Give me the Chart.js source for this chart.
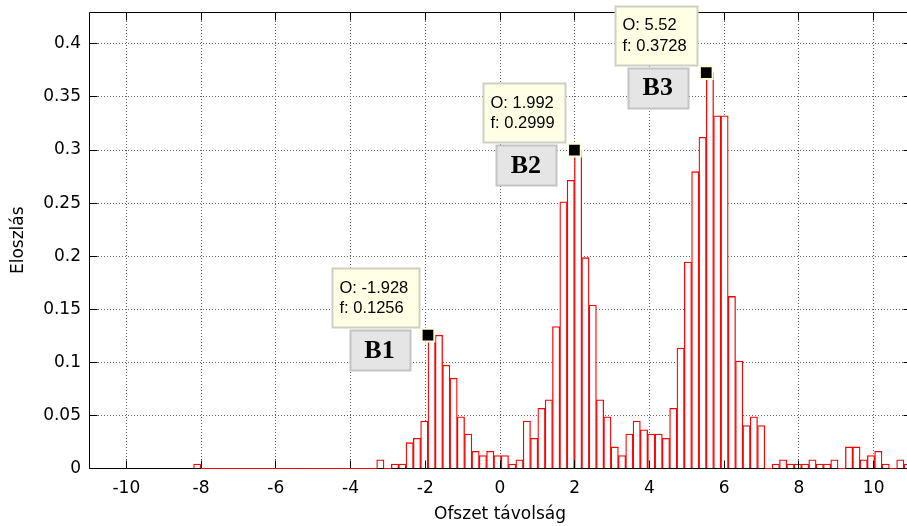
<!DOCTYPE html>
<html>
<head>
<meta charset="utf-8">
<script src="https://cdn.jsdelivr.net/npm/chart.js@4.4.1/dist/chart.umd.min.js"></script>
<style>
  html, body { margin: 0; padding: 0; background: #fff; overflow: hidden; }
  #wrap { width: 907px; height: 526px; overflow: hidden; }
  canvas { display: block; }
</style>
</head>
<body>
<div id="wrap"><canvas id="chart" width="912" height="526"></canvas></div>
<script>
// histogram bins: centres and normalised frequency (Eloszlás)
const binWidth = 0.196;
const binCenters = [
  -8.102, -7.906, -7.71, -7.514, -7.318, -7.122, -6.926, -6.73, -6.534, -6.338,
  -6.142, -5.946, -5.75, -5.554, -5.358, -5.162, -4.966, -4.77, -4.574, -4.378,
  -4.182, -3.986, -3.79, -3.594, -3.398, -3.202, -3.006, -2.81, -2.614, -2.418,
  -2.222, -2.026, -1.83, -1.634, -1.438, -1.242, -1.046, -0.85, -0.654, -0.458,
  -0.262, -0.066, 0.13, 0.326, 0.522, 0.718, 0.914, 1.11, 1.306, 1.502,
  1.698, 1.894, 2.09, 2.286, 2.482, 2.678, 2.874, 3.07, 3.266, 3.462,
  3.658, 3.854, 4.05, 4.246, 4.442, 4.638, 4.834, 5.03, 5.226, 5.422,
  5.618, 5.814, 6.01, 6.206, 6.402, 6.598, 6.794, 6.99, 7.186, 7.382,
  7.578, 7.774, 7.97, 8.166, 8.362, 8.558, 8.754, 8.95, 9.146, 9.342,
  9.538, 9.734, 9.93, 10.126, 10.322, 10.518, 10.714, 10.91
];
const binValues = [
  0.0041, 0, 0, 0, 0, 0, 0, 0, 0, 0,
  0, 0, 0, 0, 0, 0, 0, 0, 0, 0,
  0, 0, 0, 0, 0, 0.0081, 0, 0.0041, 0.0041, 0.0243,
  0.0284, 0.0446, 0.1256, 0.1256, 0.0973, 0.0851, 0.0486, 0.0324, 0.0162, 0.0122,
  0.0162, 0.0122, 0.0122, 0.0041, 0.0081, 0.0446, 0.0284, 0.0567, 0.0648, 0.1337,
  0.2512, 0.2715, 0.2999, 0.1986, 0.1540, 0.0648, 0.0486, 0.0203, 0.0122, 0.0324,
  0.0446, 0.0365, 0.0324, 0.0324, 0.0284, 0.0567, 0.1135, 0.1945, 0.2796, 0.3120,
  0.3728, 0.3323, 0.3323, 0.1621, 0.1013, 0.0405, 0.0486, 0.0405, 0, 0.0041,
  0.0081, 0.0041, 0.0041, 0.0041, 0.0081, 0.0041, 0.0041, 0.0081, 0, 0.0203,
  0.0203, 0.0081, 0.0122, 0.0162, 0.0041, 0, 0.0081, 0.0041
];

// data tips on the three peaks
const tipX = [-1.928, 1.992, 5.52];
const tipY = [0.1256, 0.2999, 0.3728];
const peakNames = ['B1', 'B2', 'B3'];

const xTicks = [-10, -8, -6, -4, -2, 0, 2, 4, 6, 8, 10];
const yTicks = [0, 0.05, 0.1, 0.15, 0.2, 0.25, 0.3, 0.35, 0.4];

const AXIS_FONT = '"DejaVu Sans", Verdana, sans-serif';
const TIP_FONT = 'Arial, "Liberation Sans", sans-serif';
const SERIF = '"Times New Roman", "Liberation Serif", serif';

Chart.defaults.font.family = AXIS_FONT;
Chart.defaults.color = '#000';

// empty bins show as a red line on the baseline
const emptyBins = [];
binCenters.forEach((c, i) => {
  if (binValues[i] === 0) {
    emptyBins.push({ x: c - binWidth / 2, y: 0 }, { x: c + binWidth / 2, y: 0 });
  } else {
    emptyBins.push({ x: c, y: null });
  }
});

const align = v => Math.round(v - 0.5) + 0.5;

// keep the plot box where it is, no extra padding for the tick labels
const noPad = s => { s.paddingTop = 0; s.paddingBottom = 0; s.paddingLeft = 0; s.paddingRight = 0; };

// black box round the plot with inward ticks (matlab style)
const axesBox = {
  id: 'axesBox',
  afterDatasetDraw(chart, args) {
    if (args.index !== 0) return;
    const { ctx, chartArea: a, scales: { x, y } } = chart;
    const L = align(a.left), R = align(a.right), T = align(a.top), B = align(a.bottom);
    ctx.save();
    ctx.strokeStyle = '#000';
    ctx.lineWidth = 1;
    ctx.beginPath();
    ctx.moveTo(L, T); ctx.lineTo(R, T); ctx.lineTo(R, B); ctx.lineTo(L, B); ctx.closePath();
    xTicks.forEach(v => {
      const px = align(x.getPixelForValue(v));
      ctx.moveTo(px, B); ctx.lineTo(px, B - 8);
      ctx.moveTo(px, T); ctx.lineTo(px, T + 8);
    });
    yTicks.forEach(v => {
      const py = align(y.getPixelForValue(v));
      ctx.moveTo(L, py); ctx.lineTo(L + 8, py);
      ctx.moveTo(R, py); ctx.lineTo(R - 8, py);
    });
    ctx.stroke();
    ctx.restore();
  },
  afterDatasetsDraw(chart) {
    const { ctx, scales: { x, y } } = chart;
    ctx.save();
    tipX.forEach((tx, i) => {
      const mx = x.getPixelForValue(tx);
      const my = y.getPixelForValue(tipY[i]);
      const line1 = 'O: ' + tx;
      const line2 = 'f: ' + tipY[i];
      ctx.font = '16.5px ' + TIP_FONT;
      const tw = Math.max(ctx.measureText(line1).width, ctx.measureText(line2).width);
      const bw = Math.round(tw + 18);
      const right = Math.round(mx - 9) + 0.5;
      const top = Math.round(my - 67) + 0.5;
      ctx.fillStyle = '#ffffe6';
      ctx.strokeStyle = '#cfcfc4';
      ctx.fillRect(right - bw, top, bw, 59);
      ctx.strokeRect(right - bw, top, bw, 59);
      ctx.fillStyle = '#000';
      ctx.textAlign = 'left';
      ctx.textBaseline = 'middle';
      ctx.fillText(line1, right - bw + 7, my - 47);
      ctx.fillText(line2, right - bw + 7, my - 26.5);

      const gx = Math.round(mx - 78) + 0.5;
      const gy = Math.round(my - 5) + 0.5;
      ctx.fillStyle = '#e5e5e5';
      ctx.strokeStyle = '#c4c4c4';
      ctx.fillRect(gx, gy, 60, 40);
      ctx.strokeRect(gx, gy, 60, 40);
      ctx.fillStyle = '#000';
      ctx.font = 'bold 26px ' + SERIF;
      ctx.textAlign = 'center';
      ctx.fillText(peakNames[i], mx - 48.5, my + 16);
    });
    ctx.restore();
  }
};

new Chart(document.getElementById('chart').getContext('2d'), {
  type: 'bar',
  data: {
    datasets: [
      {
        type: 'bar',
        data: binCenters.map((c, i) => ({ x: c, y: binValues[i] })),
        backgroundColor: '#ffffff',
        borderColor: '#ff0000',
        borderWidth: 1.3,
        borderSkipped: 'start',
        barPercentage: 1,
        categoryPercentage: 1,
        order: 2
      },
      {
        type: 'line',
        data: emptyBins,
        borderColor: '#ff0000',
        borderWidth: 1,
        pointRadius: 0,
        spanGaps: false,
        clip: false,
        order: 1
      },
      {
        type: 'scatter',
        data: tipX.map((v, i) => ({ x: v, y: tipY[i] })),
        pointStyle: 'rect',
        pointRadius: 9,
        pointHoverRadius: 9,
        backgroundColor: '#000000',
        borderColor: '#ffffd8',
        borderWidth: 2,
        clip: false,
        order: 0
      }
    ]
  },
  options: {
    responsive: false,
    animation: false,
    events: [],
    layout: { autoPadding: false, padding: { top: 12, right: 1, left: 0, bottom: 0 } },
    plugins: { legend: { display: false }, tooltip: { enabled: false } },
    scales: {
      x: {
        type: 'linear',
        min: -11,
        max: 11,
        offset: false,
        afterBuildTicks: s => { s.ticks = xTicks.map(v => ({ value: v })); },
        afterFit: s => { s.height = 57.5; noPad(s); },
        grid: { color: '#666', drawTicks: false, offset: false },
        border: { display: false, dash: [1, 2] },
        ticks: { padding: 9.5, autoSkip: false, maxRotation: 0, font: { size: 17 }, color: '#000', callback: v => String(v) },
        title: { display: true, text: 'Ofszet távolság', font: { size: 17 }, color: '#000', padding: { top: 0, bottom: 1.5 } }
      },
      y: {
        type: 'linear',
        min: 0,
        max: 0.43,
        afterBuildTicks: s => { s.ticks = yTicks.map(v => ({ value: v })); },
        afterFit: s => { s.width = 89; noPad(s); },
        grid: { color: '#666', drawTicks: false },
        border: { display: false, dash: [1, 2] },
        ticks: { padding: 8, font: { size: 17 }, color: '#000', callback: v => String(v) },
        title: { display: true, text: 'Eloszlás', font: { size: 17 }, color: '#000', padding: { top: 8, bottom: 0 } }
      }
    }
  },
  plugins: [axesBox]
});
</script>
</body>
</html>
